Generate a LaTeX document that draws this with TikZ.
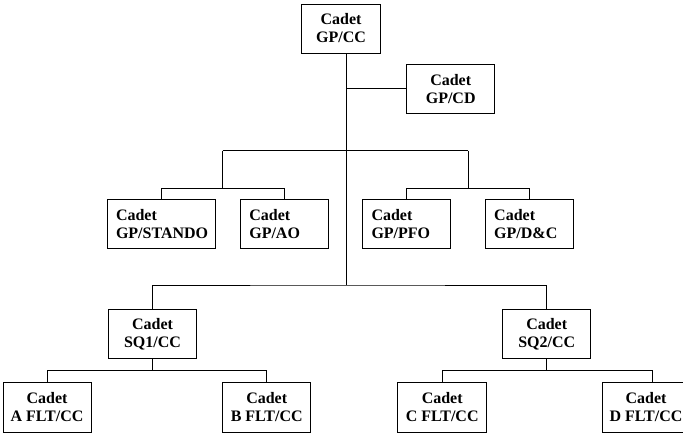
\documentclass[tikz,border=0pt]{standalone}
\usepackage{fontspec}
\setmainfont{Liberation Serif}
\usepackage{tikz}

\begin{document}
\begin{tikzpicture}[x=1pt, y=1pt, line width=0.9pt,
	box/.style={draw, minimum width=88pt, minimum height=49pt, inner sep=0pt, align=center, font=\bfseries\fontsize{16}{18}\selectfont},
	lbox/.style={box, text width=70pt, inner xsep=9pt, align=left}]
	\useasboundingbox (0,0) rectangle (683,-433);
	\clip (0,0) rectangle (683,-433);

	\node[box, minimum width=79pt](CC) at (341,-28.5){Cadet\\GP/CC};
	
	\coordinate(T1) at (346,-88.7);
	\node[box, right of=T1, node distance=104.7pt](CD){Cadet\\GP/CD};
	
	\coordinate(T2) at (346,-150.7);
	\coordinate[left of=T2, node distance=123.3pt](L1);
	\coordinate[right of=T2, node distance=122.3pt](R1);
	\coordinate[below of=L1, node distance=37.6pt](L2);
	\coordinate[below of=R1, node distance=37.6pt](R2);
	
	\node[lbox, text width=91pt, inner xsep=8.5pt](ST) at (161.5,-223.8){Cadet\\GP/STANDO};
	\node[lbox, right of=ST, node distance=122.8pt](AO){Cadet\\GP/AO};
	\node[lbox](PF) at (406.5,-223.8){Cadet\\GP/PFO};
	\node[lbox, right of=PF, node distance=122.7pt](DC){Cadet\\GP/D\&C};
	
	\draw (CC.south -| T1) -- (T1) -- (CD);
	\draw (L1) -- (R1);
	\draw (L1) -- (L2);
	\draw (R1) -- (R2);
	\draw (ST.north) |- (L2) -| (AO.north);
	\draw (PF.north) |- (R2) -| (DC.north);
	
	\coordinate(T3) at (346,-285);
	\node[box](SQ1) at (152.5,-334.2){Cadet\\SQ1/CC};
	\node[box, right of=SQ1, node distance=394.2pt](SQ2){Cadet\\SQ2/CC};
	
	\draw (T1) -- (T3);
	\draw (SQ1.north) |- (T3) -| (SQ2.north);
	
	\coordinate[below of=SQ1, node distance=36.5pt](S1);
	\coordinate[below of=SQ2, node distance=36.5pt](S2);
	\coordinate[right of=S2, node distance=105.6pt](S3);
	
	\node[box, minimum height=49.3pt](FA) at (47,-407.3){Cadet\\A FLT/CC};
	\node[box, minimum height=49.3pt](FB) at (266.7,-407.3){Cadet\\B FLT/CC};
	\node[box, minimum height=49.3pt, minimum width=89pt](FC) at (442.2,-407.3){Cadet\\C FLT/CC};
	\node[box, minimum height=49.3pt](FD) at (646,-407.3){Cadet\\D FLT/CC};
	
	\draw (SQ1) -- (S1);
	\draw (FA.north) |- (S1) -| (FB.north);
	\draw (SQ2) -- (S2);
	\draw (FC.north) |- (S2) -- (S3) -- (S3 |- FD.north);
	
\end{tikzpicture}
\end{document}
